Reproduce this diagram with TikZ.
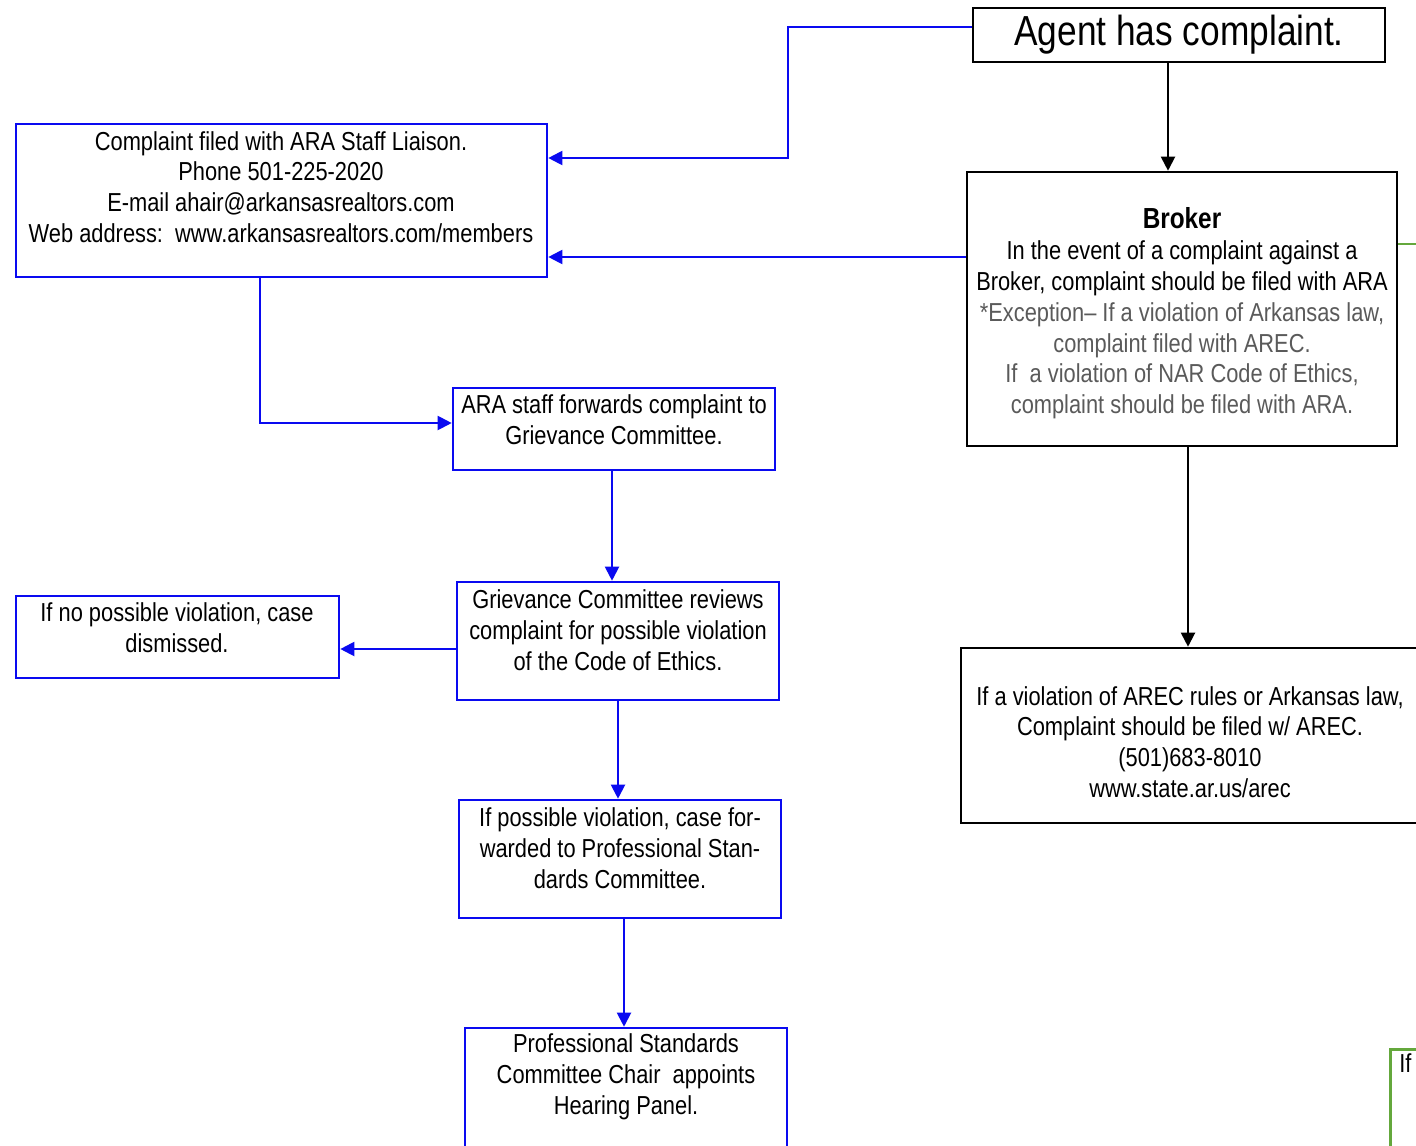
\documentclass[tikz,border=0pt]{standalone}
\usepackage{fontspec}
\setmainfont{Liberation Sans}[FakeStretch=0.84]
\usetikzlibrary{arrows.meta}
\definecolor{boxblue}{RGB}{10,10,240}
\definecolor{boxgreen}{RGB}{100,168,60}
\definecolor{exgray}{RGB}{90,90,90}
\tikzset{
  bluebox/.style={draw=boxblue, line width=1.3pt, rectangle, inner sep=0pt},
  blackbox/.style={draw=black, line width=1.3pt, rectangle, inner sep=0pt},
  txt/.style={align=center, inner sep=0pt, font=\fontsize{13}{15.4}\selectfont},
  bluearrow/.style={draw=boxblue, line width=1pt, -{Triangle[length=7pt,width=7pt]}},
  blackarrow/.style={draw=black, line width=1pt, -{Triangle[length=7pt,width=7pt]}},
}
\begin{document}
\begin{tikzpicture}[x=0.5pt,y=-0.5pt]
\useasboundingbox[fill=white] (0,0) rectangle (1416,1145);
% boxes
\node[blackbox, minimum width=206pt, minimum height=27pt, font=\fontsize{21}{24}\selectfont] (agent) at (1179,35) {Agent has complaint.};
\node[bluebox, minimum width=265.5pt, minimum height=76.5pt] (liaison) at (281.5,200.5) {};
\node[txt] (liaisont) at (281,187) {Complaint filed with ARA Staff Liaison.\\Phone 501-225-2020\\E-mail ahair@arkansasrealtors.com\\Web address:\ \ www.arkansasrealtors.com/members};
\node[blackbox, minimum width=215pt, minimum height=137pt] (broker) at (1182,309) {};
\node[txt] (brokert) at (1182,313.5) {{\fontsize{14.5}{15.4}\selectfont\textbf{Broker}}\\In the event of a complaint against a\\Broker, complaint should be filed with ARA\\\textcolor{exgray}{*Exception-- If a violation of Arkansas law,}\\\textcolor{exgray}{complaint filed with AREC.}\\\textcolor{exgray}{If\ \ a violation of NAR Code of Ethics,}\\\textcolor{exgray}{complaint should be filed with ARA.}};
\node[bluebox, minimum width=161pt, minimum height=41pt] (forwards) at (614,429) {};
\node[txt] (forwardst) at (614,420) {ARA staff forwards complaint to\\Grievance Committee.};
\node[bluebox, minimum width=161pt, minimum height=59pt] (reviews) at (618,641) {};
\node[txt] (reviewst) at (618,630) {Grievance Committee reviews\\complaint for possible violation\\of the Code of Ethics.};
\node[bluebox, minimum width=161.5pt, minimum height=41pt] (noviol) at (177.5,637) {};
\node[txt] (noviolt) at (177,628) {If no possible violation, case\\dismissed.};
\node[bluebox, minimum width=161pt, minimum height=59pt] (possible) at (620,859) {};
\node[txt] (possiblet) at (620,848) {If possible violation, case for-\\warded to Professional Stan-\\dards Committee.};
\node[bluebox, minimum width=161pt, minimum height=70pt] (ps) at (626,1098) {};
\node[txt] (pst) at (626,1077) {Professional Standards\\Committee Chair\ \ appoints\\Hearing Panel.};
\node[blackbox, minimum width=229pt, minimum height=87.5pt] (arec) at (1190,735.5) {};
\node[txt] (arect) at (1190,742) {If a violation of AREC rules or Arkansas law,\\Complaint should be filed w/ AREC.\\(501)683-8010\\www.state.ar.us/arec};
\node[draw=boxgreen, line width=1.3pt, rectangle, inner sep=0pt, minimum width=60pt, minimum height=80pt, anchor=north west] (greenbox) at (1389,1048) {};
\node[txt, anchor=north west] (greent) at (1399,1053) {If};
% connectors
\coordinate (bend1) at (788,27);
\draw[bluearrow] (agent.west |- 0,27) -- (bend1) |- (liaison.east |- 0,158);
\draw[blackarrow] (agent.south -| 1168,0) -- (broker.north -| 1168,0);
\draw[bluearrow] (broker.west |- 0,257) -- (liaison.east |- 0,257);
\draw[bluearrow] (liaison.south -| 260,0) |- (forwards.west |- 0,423);
\draw[bluearrow] (forwards.south -| 612,0) -- (reviews.north -| 612,0);
\draw[bluearrow] (reviews.west |- 0,649) -- (noviol.east |- 0,649);
\draw[bluearrow] (reviews.south -| 618,0) -- (possible.north -| 618,0);
\draw[bluearrow] (possible.south -| 624,0) -- (ps.north -| 624,0);
\draw[blackarrow] (broker.south -| 1188,0) -- (arec.north -| 1188,0);
\coordinate (greenend) at (1430,244);
\draw[draw=boxgreen, line width=1pt] (broker.east |- 0,244) -- (greenend);
\end{tikzpicture}
\end{document}
